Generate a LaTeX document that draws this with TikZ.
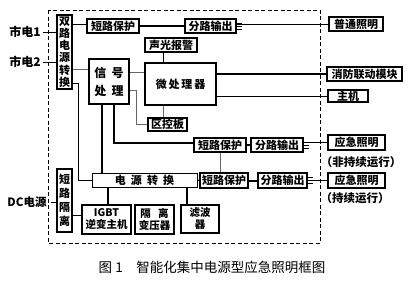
\documentclass[tikz,border=0pt]{standalone}
\usepackage{fontspec}
\setmainfont{Noto Sans CJK SC}
\begin{document}
\begin{tikzpicture}[x=1pt,y=-1pt,
 bx/.style={draw,line width=1.4pt,inner sep=0pt,align=center,font=\fontsize{11}{13}\selectfont\bfseries},
 tb/.style={draw,line width=0.7pt,inner sep=0pt,align=center,font=\fontsize{11}{13}\selectfont\bfseries},
 lbl/.style={inner sep=0pt,font=\fontsize{11.5}{13}\selectfont\bfseries},
 ln/.style={line width=1pt},
 tk/.style={line width=2pt},
 tn/.style={line width=0.6pt,draw=black!60},
 stub/.style={line width=0.6pt}]
\useasboundingbox (0,0) rectangle (412,281);
\fill[white] (0,0) rectangle (412,281);
% outer dashed frame
\draw[line width=0.8pt,dashed,dash pattern=on 4pt off 2.5pt] (48,10) rectangle (320,243);
% boxes
\node[bx,minimum width=15pt,minimum height=74pt,font=\fontsize{11}{12.2}\selectfont\bfseries] (sl) at (64.5,52) {双\\路\\电\\源\\转\\换};
\node[bx,minimum width=52pt,minimum height=14pt] (dl1) at (113,26) {短路保护};
\node[bx,minimum width=51pt,minimum height=14pt] (fl1) at (210.5,26) {分路输出};
\node[bx,minimum width=54pt,minimum height=14pt] (pt) at (356,24) {普通照明};
\node[bx,minimum width=52pt,minimum height=14pt] (sg) at (171,45) {声光报警};
\node[bx,minimum width=71pt,minimum height=42pt] (wc) at (180.5,84) {微\,处\,理\,器};
\node[bx,minimum width=40pt,minimum height=45pt,font=\fontsize{12}{18}\selectfont\bfseries] (xh) at (109,81.5) {信\ \ 号\\处\ \ 理};
\node[bx,minimum width=39pt,minimum height=13pt] (qk) at (167.5,124.5) {区控板};
\node[bx,minimum width=52pt,minimum height=14pt] (dl2) at (220,145) {短路保护};
\node[bx,minimum width=52pt,minimum height=14pt] (fl2) at (277,145) {分路输出};
\node[bx,minimum width=57pt,minimum height=15pt] (yj1) at (356.5,142.5) {应急照明};
\node[lbl] (lb1) at (361,162) {（非持续运行）};
\node[tb,minimum width=105pt,minimum height=14pt] (dy) at (144.5,180) {电\ \ 源\ \ 转\ \ 换};
\node[bx,minimum width=48pt,minimum height=15pt] (dl3) at (224,180.5) {短路保护};
\node[bx,minimum width=49pt,minimum height=15pt] (fl3) at (282.5,180.5) {分路输出};
\node[bx,minimum width=57pt,minimum height=15pt] (yj2) at (356.5,180.5) {应急照明};
\node[lbl] (lb2) at (355,198) {（持续运行）};
\node[bx,minimum width=75pt,minimum height=14pt] (xf) at (364.5,74) {消防联动模块};
\node[bx,minimum width=40pt,minimum height=12pt] (zj) at (348,96) {主机};
\node[bx,minimum width=15pt,minimum height=63pt,font=\fontsize{11}{14}\selectfont\bfseries] (dg) at (64.5,200.5) {短\\路\\隔\\离};
\node[bx,minimum width=49pt,minimum height=29pt,font=\fontsize{10.5}{12}\selectfont\bfseries] (ig) at (106.5,219.5) {IGBT\\逆变主机};
\node[bx,minimum width=39pt,minimum height=29pt,font=\fontsize{10.5}{12}\selectfont\bfseries] (gl) at (154.5,219.5) {隔\ \ \ 离\\变压器};
\node[bx,minimum width=38pt,minimum height=28pt,font=\fontsize{10.5}{12}\selectfont\bfseries] (lv) at (200,219) {滤波\\器};
% outside labels
\node[lbl,font=\fontsize{12}{13}\selectfont\bfseries] (s1) at (25,32) {市电1};
\node[lbl,font=\fontsize{12}{13}\selectfont\bfseries] (s2) at (25,62) {市电2};
\node[lbl,font=\fontsize{11.5}{13}\selectfont\bfseries] (dc) at (27,202) {DC电源};
\node[lbl,font=\fontsize{13.5}{15}\selectfont] (cap) at (212,267) {图 1\quad 智能化集中电源型应急照明框图};
% free ends
\coordinate (in1) at (43,32);
\coordinate (in2) at (43,62);
\coordinate (in3) at (51,202);
% inputs
\draw[ln] (in1) -- (in1 -| sl.west);
\draw[ln] (in2) -- (in2 -| sl.west);
\draw[ln] (in3) -- (in3 -| dg.west);
% top chain
\draw[ln] ([yshift=2pt]sl.east |- dl1.west) -- ([yshift=2pt]dl1.west);
\draw[tk] (dl1.east) -- (fl1.west);
\foreach \d in {-3,0,3} \draw[stub] ([yshift=\d pt]fl1.east) -- ++(5,0);
\draw[ln] (fl1.east |- pt.west) -- (pt.west);
% alarm / micro
\draw[ln] ([xshift=-8pt]sg.south) -- ([xshift=-8pt]sg.south |- wc.north);
\draw[tn] (sl.east |- 0,69) -- (xh.west |- 0,69);
\draw[tn] (xh.east |- 0,72) -- (wc.west |- 0,72);
\draw[tn] (xh.east |- 0,90) -- (136,90) -- (136,124.5) -- (qk.west);
\draw[tn] ([xshift=-17.5pt]wc.south) -- ([xshift=-17.5pt]wc.south |- qk.north);
\draw[tk] (wc.east |- xf.west) -- (xf.west);
\draw[ln] (wc.east |- zj.west) -- (zj.west);
% power path
\draw[ln] (sl.east |- 0,83) -- (78,83) -- (78,180) -- (dy.west);
\draw[tk] (xh.south -| 102,0) -- (dy.north -| 102,0);
\draw[tk] (xh.south -| 114,0) -- (114,143) -- (dl2.west |- 0,143);
\draw[tk] (dl2.east) -- (fl2.west);
\foreach \d in {-3,0,3} \draw[stub] ([yshift=\d pt]fl2.east) -- ++(5,0);
\draw[ln] (fl2.east |- yj1.west) -- (yj1.west);
\draw[tn] (dl2.south) -- (dl2.south |- dl3.north);
\draw[ln] (dy.east) -- (dl3.west);
\draw[tk] (dl3.east) -- (fl3.west);
\foreach \d in {-3,0,3} \draw[stub] ([yshift=\d pt]fl3.east) -- ++(5,0);
\draw[ln] (fl3.east |- yj2.west) -- (yj2.west);
% bottom
\draw[ln] (dg.east |- 0,215) -- (ig.west |- 0,215);
\draw[tk] (dy.south -| 108,0) -- (ig.north -| 108,0);
\draw[tk] (dy.south -| 187,0) -- (lv.north -| 187,0);
\end{tikzpicture}
\end{document}
